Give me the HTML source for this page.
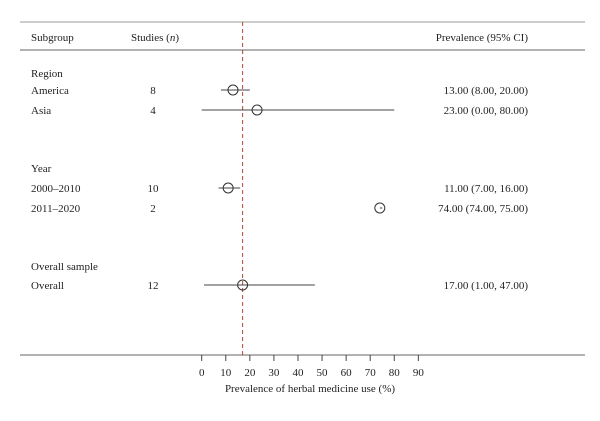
<!DOCTYPE html>
<html><head><meta charset="utf-8"><style>
html,body{margin:0;padding:0;background:#fff}
svg{display:block}
text{font-family:"Liberation Serif",serif;font-size:11px;fill:#222}
</style></head><body>
<svg width="600" height="421">
<line x1="20" y1="22" x2="585" y2="22" stroke="#999" stroke-width="1"/>
<line x1="20" y1="50" x2="585" y2="50" stroke="#999" stroke-width="1.5"/>
<line x1="20" y1="355" x2="585" y2="355" stroke="#666" stroke-width="1"/>
<text x="31" y="41">Subgroup</text>
<text x="131" y="41">Studies (<tspan font-style="italic">n</tspan>)</text>
<text x="528" y="41" text-anchor="end">Prevalence (95% CI)</text>
<text x="31" y="77">Region</text>
<text x="31" y="172">Year</text>
<text x="31" y="270">Overall sample</text>
<g id="rows"></g>
<g id="axis"></g>
<text x="310" y="392" text-anchor="middle">Prevalence of herbal medicine use (%)</text>
</svg>
<script>
const labels=["America","Asia","2000–2010","2011–2020","Overall"];
const studies=[8,4,10,2,12];
const est=[13,23,11,74,17];
const lo=[8,0,7,74,1];
const hi=[20,80,16,75,47];
const rowY=[90,110,188,208,285];
const ticks=[0,10,20,30,40,50,60,70,80,90];
const overall=17;
const NS="http://www.w3.org/2000/svg";
const x=v=>201.7+v*2.407;
function mk(t,a,p){const e=document.createElementNS(NS,t);for(const k in a)e.setAttribute(k,a[k]);p.appendChild(e);return e;}
const rows=document.getElementById('rows'),axis=document.getElementById('axis');
const dl=mk('line',{x1:x(overall),x2:x(overall),y1:22,y2:355,stroke:'#b8452f','stroke-width':1,'stroke-dasharray':'4,3'},rows);


const f=v=>v.toFixed(2);
labels.forEach((l,i)=>{
 const y=rowY[i];
 const t1=mk('text',{x:31,y:y+4},rows);t1.textContent=l;
 
 
 const t2=mk('text',{x:153,y:y+4,'text-anchor':'middle'},rows);t2.textContent=studies[i];
 
 
 const t3=mk('text',{x:528,y:y+4,'text-anchor':'end'},rows);t3.textContent=f(est[i])+' ('+f(lo[i])+', '+f(hi[i])+')';
 
 
 const ci=mk('line',{x1:x(lo[i]),x2:x(hi[i]),y1:y,y2:y,stroke:'#444','stroke-width':1},rows);
 
 
 const c=mk('circle',{cx:x(est[i]),cy:y,r:5,fill:'none',stroke:'#333','stroke-width':1},rows);
 
 
});
ticks.forEach(v=>{
 const tk=mk('line',{x1:x(v),x2:x(v),y1:355,y2:361,stroke:'#444'},axis);
 
 
 const tl=mk('text',{x:x(v),y:376,'text-anchor':'middle'},axis);tl.textContent=v;
 
 
});
</script>
</body></html>
